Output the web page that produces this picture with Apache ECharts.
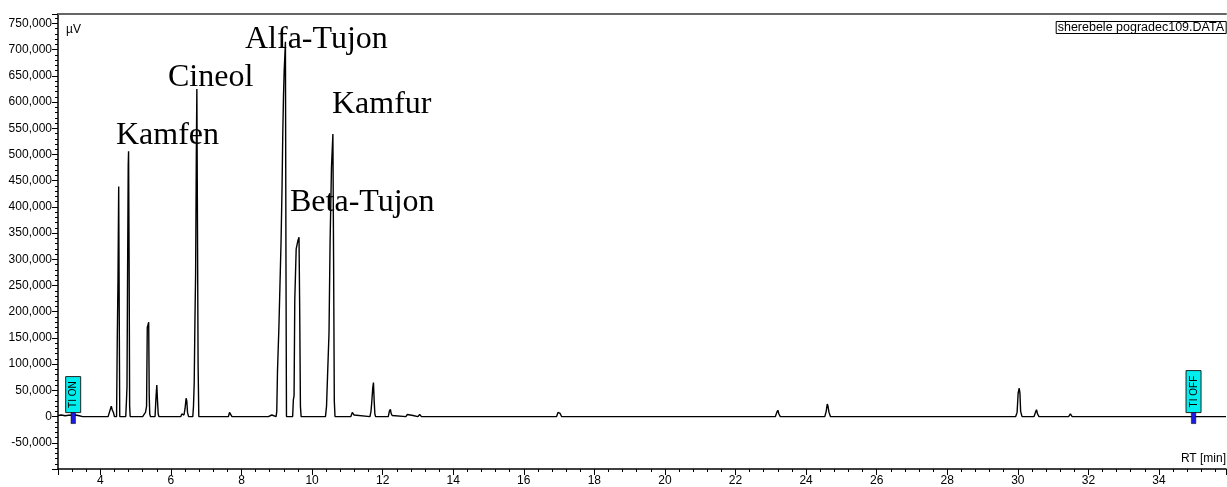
<!DOCTYPE html>
<html>
<head>
<meta charset="utf-8">
<title>sherebele pogradec109</title>
<script src="https://cdn.jsdelivr.net/npm/echarts@6.0.0/dist/echarts.min.js"></script>
<style>
    html, body { margin: 0; padding: 0; background: #fff; }
    #chart { width: 1227px; height: 487px; }
</style>
</head>
<body>
<div id="chart"></div>
<script>
// retention time (min), one line per peak
const rt = [
    2.8, 2.9, 3.0, 3.1, 3.3, 3.4, 3.5,
    4.22, 4.27, 4.31, 4.34, 4.37, 4.40,
    4.46, 4.48, 4.50, 4.52, 4.535, 4.55,
    4.72, 4.74, 4.755, 4.77, 4.79, 4.80, 4.815, 4.83, 4.845,
    5.20, 5.24, 5.28, 5.31, 5.33, 5.35, 5.37, 5.385, 5.40, 5.42,
    5.55, 5.58, 5.60, 5.62, 5.64, 5.66,
    6.28, 6.31, 6.34, 6.37, 6.40, 6.43, 6.45, 6.47, 6.50,
    6.62, 6.64, 6.66, 6.68, 6.70, 6.72, 6.735, 6.75, 6.77, 6.79,
    7.63, 7.66, 7.68, 7.70, 7.73,
    8.76, 8.80, 8.86, 8.90,
    8.98, 9.00, 9.02, 9.06, 9.09, 9.12, 9.15, 9.17, 9.19, 9.21, 9.23, 9.245, 9.26, 9.275,
    9.45, 9.47, 9.49, 9.51, 9.55, 9.60, 9.63, 9.65, 9.67, 9.69,
    10.38, 10.41, 10.44, 10.48, 10.51, 10.55, 10.59, 10.61, 10.63, 10.65,
    11.10, 11.14, 11.16, 11.19, 11.21,
    11.64, 11.67, 11.69, 11.72, 11.74, 11.76, 11.78, 11.80,
    12.16, 12.19, 12.22, 12.24, 12.27, 12.30,
    12.66, 12.70, 12.74, 12.78, 12.82, 12.86, 12.90,
    13.00, 13.05, 13.10,
    16.93, 16.97, 17.00, 17.03, 17.07,
    23.13, 23.17, 23.20, 23.23, 23.27,
    24.53, 24.57, 24.60, 24.62, 24.65, 24.69,
    29.48, 29.53, 29.58,
    29.94, 29.98, 30.01, 30.04, 30.06, 30.08, 30.12,
    30.46, 30.50, 30.53, 30.56, 30.60,
    31.44, 31.49, 31.54,
    35.9
];

// detector signal (µV), same order as rt
const signal = [
    2000, 3000, 1500, 2500, 3000, 1500, 0,
    0, 3000, 20000, 12000, 8000, 0,
    0, 150000, 260000, 439000, 200000, 0,
    0, 30000, 57000, 250000, 480000, 506000, 300000, 20000, 0,
    0, 4000, 8000, 20000, 170000, 175000, 180000, 40000, 5000, 0,
    0, 40000, 60000, 30000, 5000, 0,
    0, 5000, 8000, 3000, 15000, 35000, 30000, 8000, 0,
    0, 20000, 64000, 180000, 273000, 500000, 625000, 400000, 100000, 0,
    0, 8000, 10000, 5000, 0,
    0, 3000, 3000, 0,
    0, 10000, 86000, 170000, 250000, 330000, 440000, 540000, 610000, 660000, 690000, 715000, 300000, 0,
    0, 32000, 40000, 222000, 320000, 336000, 342000, 200000, 20000, 0,
    0, 20000, 80000, 159000, 330000, 475000, 539000, 300000, 30000, 0,
    0, 8000, 10000, 3000, 0,
    0, 10000, 26000, 55000, 65000, 30000, 5000, 0,
    0, 10000, 14000, 6000, 2000, 0,
    0, 4000, 5000, 3000, 5000, 2000, 0,
    0, 4000, 0,
    0, 8000, 11000, 6000, 0,
    0, 8000, 12000, 5000, 0,
    0, 10000, 24000, 20000, 8000, 0,
    0, 3000, 0,
    0, 8000, 45000, 54000, 45000, 10000, 0,
    0, 8000, 13000, 5000, 0,
    0, 5000, 0,
    0
];

const peakNames = ['Kamfen', 'Cineol', 'Alfa-Tujon', 'Kamfur', 'Beta-Tujon'];

// integration on / off events
const tiRt = [3.23, 34.98];
const tiLabels = ['TI ON', 'TI OFF'];

const fileName = 'sherebele pogradec109.DATA';

const xMin = 2.8, xMax = 35.9;
const yMin = -100000, yMax = 768000;

const sans = 'Liberation Sans, Arial, sans-serif';
const serif = 'Liberation Serif, Times New Roman, serif';

const chart = echarts.init(document.getElementById('chart'));

// marker box for TI ON / TI OFF
function renderTi(params, api) {
    const p = api.coord([api.value(0), 0]);
    const label = tiLabels[params.dataIndex];
    const h = label.length * 6 + 6;
    return {
        type: 'group',
        children: [
            {
                type: 'rect',
                shape: { x: p[0] - 7.5, y: p[1] - 4 - h, width: 15, height: h },
                style: { fill: '#00eeee', stroke: '#222', lineWidth: 1 }
            },
            {
                type: 'text',
                x: p[0] + 0.5,
                y: p[1] - 4 - h / 2,
                rotation: Math.PI / 2,
                style: {
                    text: label, fill: '#000', font: '10px ' + sans,
                    align: 'center', verticalAlign: 'middle'
                }
            },
            {
                type: 'rect',
                shape: { x: p[0] - 2.2, y: p[1] - 4, width: 4.5, height: 11 },
                style: { fill: '#1c1ce0', stroke: '#000', lineWidth: 0.5 }
            }
        ]
    };
}

function peakLabel(text, x, y) {
    return {
        type: 'text', x: x, y: y, z: 10,
        style: {
            text: text, fill: '#000', font: '32px ' + serif,
            align: 'left', verticalAlign: 'middle'
        }
    };
}

const option = {
    animation: false,
    backgroundColor: '#fff',
    title: {
        text: fileName,
        right: 1,
        top: 22,
        padding: [0, 2],
        borderColor: '#000',
        borderWidth: 1,
        textStyle: { fontSize: 12.5, fontWeight: 'normal', color: '#000', fontFamily: sans, lineHeight: 11 }
    },
    grid: { left: 58, right: 1, top: 14, bottom: 17 },
    xAxis: [
        {
            type: 'value',
            min: xMin,
            max: xMax,
            splitNumber: 16,
            minInterval: 2,
            maxInterval: 2,
            axisLine: { onZero: false, lineStyle: { color: '#000', width: 1.5 } },
            axisTick: { length: 6, lineStyle: { color: '#000' } },
            minorTick: { show: true, splitNumber: 5, length: 3, lineStyle: { color: '#000' } },
            axisLabel: {
                showMinLabel: false, showMaxLabel: false,
                margin: 6, color: '#000', fontSize: 12, fontFamily: sans
            },
            splitLine: { show: false }
        },
        {
            // grey frame line on top
            type: 'value',
            position: 'top',
            min: xMin,
            max: xMax,
            axisLine: { onZero: false, lineStyle: { color: '#666', width: 2 } },
            axisTick: { show: false },
            axisLabel: { show: false },
            splitLine: { show: false }
        }
    ],
    yAxis: {
        type: 'value',
        min: yMin,
        max: yMax,
        interval: 50000,
        axisLine: { onZero: false, lineStyle: { color: '#000', width: 1.5 } },
        axisTick: { length: 6, lineStyle: { color: '#000' } },
        minorTick: { show: true, splitNumber: 5, length: 3, lineStyle: { color: '#000' } },
        axisLabel: {
            showMinLabel: false, showMaxLabel: false,
            margin: 6, color: '#000', fontSize: 12, fontFamily: sans,
            formatter: v => v.toLocaleString('en-US')
        },
        splitLine: { show: false }
    },
    graphic: [
        { type: 'text', x: 66, y: 30, style: { text: 'µV', fill: '#000', font: '12px ' + sans, verticalAlign: 'middle' } },
        { type: 'text', x: 1226, y: 459, style: { text: 'RT [min]', fill: '#000', font: '12px ' + sans, align: 'right', verticalAlign: 'middle' } },
        peakLabel(peakNames[0], 116, 135.5),
        peakLabel(peakNames[1], 168, 77.5),
        peakLabel(peakNames[2], 245, 39.5),
        peakLabel(peakNames[3], 332, 104.5),
        peakLabel(peakNames[4], 290, 203)
    ],
    series: [
        {
            name: 'signal',
            type: 'line',
            data: rt.map((t, i) => [t, signal[i]]),
            showSymbol: false,
            symbol: 'none',
            lineStyle: { color: '#000', width: 1.4 },
            z: 3
        },
        {
            name: 'ti',
            type: 'custom',
            renderItem: renderTi,
            data: tiRt.map(t => [t, 0]),
            z: 4
        }
    ]
};

chart.setOption(option);
</script>
</body>
</html>
